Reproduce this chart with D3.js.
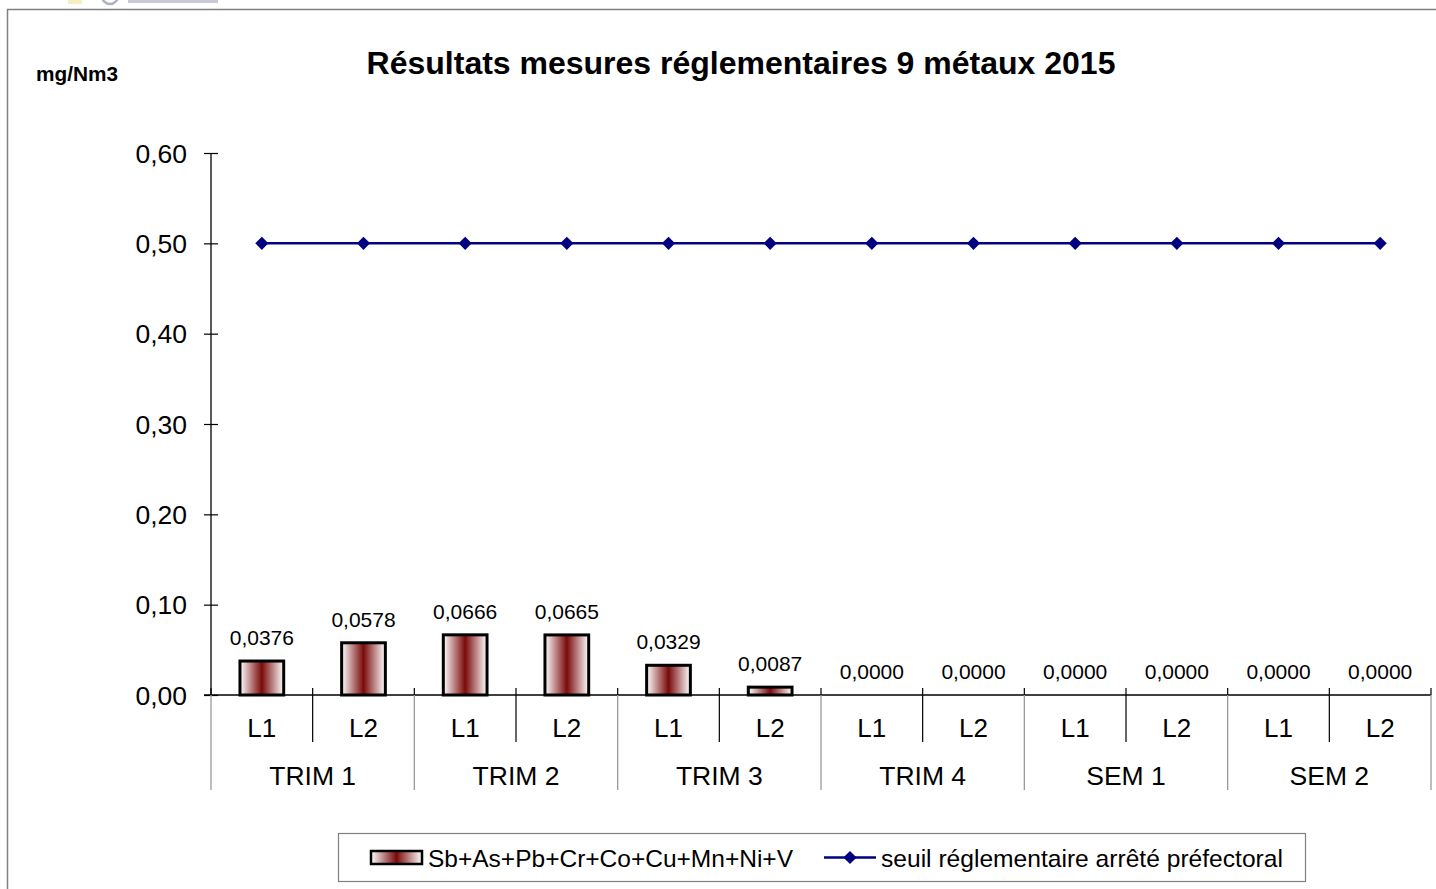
<!DOCTYPE html>
<html>
<head>
<meta charset="utf-8">
<script src="https://cdn.jsdelivr.net/npm/d3@7"></script>
<style>
  html, body { margin: 0; padding: 0; background: #fff; }
  svg { display: block; font-family: "Liberation Sans", Arial, sans-serif; }
</style>
</head>
<body>
<svg id="chart" width="1436" height="889"></svg>
<script>
// Measurement periods and lines
const groups = ["TRIM 1", "TRIM 2", "TRIM 3", "TRIM 4", "SEM 1", "SEM 2"];
const lines = ["L1", "L2"];
// Sum of the 9 metals (mg/Nm3), one value per period/line
const metalValues = [0.0376, 0.0578, 0.0666, 0.0665, 0.0329, 0.0087, 0, 0, 0, 0, 0, 0];
// Regulatory threshold
const thresholdValues = [0.5, 0.5, 0.5, 0.5, 0.5, 0.5, 0.5, 0.5, 0.5, 0.5, 0.5, 0.5];
const yTicks = [0, 0.1, 0.2, 0.3, 0.4, 0.5, 0.6];

const categories = [];
groups.forEach(g => lines.forEach(l => categories.push({ group: g, line: l, key: g + "|" + l })));

const svg = d3.select("#chart");
const fmt = (v, d) => v.toFixed(d).replace(".", ",");

const plot = { left: 211, right: 1431, top: 153, bottom: 695 };

const x = d3.scaleBand().domain(categories.map(c => c.key)).range([plot.left, plot.right]).paddingInner(0).paddingOuter(0);
const y = d3.scaleLinear().domain([0, 0.6]).range([plot.bottom, plot.top]);

// Outer frame
svg.append("path")
  .attr("d", "M7.5,889 L7.5,9.5 L1436,9.5")
  .attr("fill", "none").attr("stroke", "#808080").attr("stroke-width", 1.5);

// Faint logo fragment above the frame
svg.append("circle").attr("cx", 110).attr("cy", -4).attr("r", 8)
  .attr("fill", "none").attr("stroke", "#8890a8").attr("stroke-width", 2.5).attr("opacity", 0.7);
svg.append("rect").attr("x", 128).attr("y", 0).attr("width", 90).attr("height", 3).attr("fill", "#c8cad8");
svg.append("rect").attr("x", 68).attr("y", 0).attr("width", 14).attr("height", 4).attr("fill", "#f6f0c0");

// Title and unit
svg.append("text").attr("x", 741).attr("y", 74).attr("text-anchor", "middle")
  .attr("font-size", 32).attr("font-weight", "bold").attr("fill", "#000")
  .text("Résultats mesures réglementaires 9 métaux 2015");
svg.append("text").attr("x", 36).attr("y", 81)
  .attr("font-size", 20.8).attr("font-weight", "bold").attr("fill", "#000")
  .text("mg/Nm3");

// Bar gradient
const defs = svg.append("defs");
const grad = defs.append("linearGradient").attr("id", "barGrad")
  .attr("x1", "0%").attr("x2", "100%").attr("y1", "0%").attr("y2", "0%");
grad.append("stop").attr("offset", "0%").attr("stop-color", "#ffffff");
grad.append("stop").attr("offset", "50%").attr("stop-color", "#7a0a0a");
grad.append("stop").attr("offset", "100%").attr("stop-color", "#ffffff");

// Y axis
const yAxis = d3.axisLeft(y).tickValues(yTicks).tickSize(7).tickPadding(16).tickFormat(d => fmt(d, 2));
const yg = svg.append("g").attr("transform", `translate(${plot.left},0)`).call(yAxis);
yg.select(".domain").remove();
yg.selectAll(".tick line").attr("x2", 7).attr("x1", -7).attr("stroke", "#000").attr("stroke-width", 1.2);
yg.selectAll(".tick text").attr("font-size", 26.5).attr("fill", "#000").attr("font-family", "Liberation Sans, Arial, sans-serif").attr("dy", "0.35em").attr("x", -24);
svg.append("line").attr("x1", plot.left).attr("x2", plot.left).attr("y1", plot.top).attr("y2", plot.bottom)
  .attr("stroke", "#000").attr("stroke-width", 1.3);

// Bars
svg.append("g").selectAll("rect").data(categories).join("rect")
  .attr("x", d => x(d.key) + x.bandwidth() * 0.285)
  .attr("width", x.bandwidth() * 0.43)
  .attr("y", (d, i) => y(metalValues[i]))
  .attr("height", (d, i) => y(0) - y(metalValues[i]))
  .attr("fill", "url(#barGrad)")
  .attr("stroke", "#000").attr("stroke-width", 3)
  .attr("display", (d, i) => metalValues[i] > 0 ? null : "none");

// Bar value labels
svg.append("g").selectAll("text").data(categories).join("text")
  .attr("x", d => x(d.key) + x.bandwidth() / 2)
  .attr("y", (d, i) => y(metalValues[i]) - 16)
  .attr("text-anchor", "middle").attr("font-size", 21).attr("fill", "#000")
  .text((d, i) => fmt(metalValues[i], 4));

// X axis line
svg.append("line").attr("x1", plot.left - 7).attr("x2", plot.right).attr("y1", plot.bottom).attr("y2", plot.bottom)
  .attr("stroke", "#000").attr("stroke-width", 1.3);

// Separators: within groups (short, black) and between groups (long, grey)
const bounds = d3.range(categories.length + 1).map(i => plot.left + i * x.step());
bounds.forEach((bx, i) => {
  const isGroup = i % 2 === 0;
  svg.append("line").attr("x1", bx).attr("x2", bx)
    .attr("y1", plot.bottom - 7).attr("y2", isGroup ? plot.bottom : 742)
    .attr("stroke", "#000").attr("stroke-width", 1.2);
  if (isGroup) {
    svg.append("line").attr("x1", bx).attr("x2", bx)
      .attr("y1", plot.bottom).attr("y2", 790)
      .attr("stroke", "#9a9a9a").attr("stroke-width", 1.3);
  }
});

// Line labels
svg.append("g").selectAll("text").data(categories).join("text")
  .attr("x", d => x(d.key) + x.bandwidth() / 2).attr("y", 737)
  .attr("text-anchor", "middle").attr("font-size", 26).attr("fill", "#000")
  .text(d => d.line);

// Group labels
svg.append("g").selectAll("text").data(groups).join("text")
  .attr("x", (g, i) => plot.left + (i * 2 + 1) * x.step()).attr("y", 785)
  .attr("text-anchor", "middle").attr("font-size", 26.5).attr("fill", "#000")
  .text(g => g);

// Threshold line
const lineGen = d3.line().x(d => x(d.key) + x.bandwidth() / 2).y((d, i) => y(thresholdValues[i]));
svg.append("path").datum(categories).attr("d", lineGen)
  .attr("fill", "none").attr("stroke", "#000080").attr("stroke-width", 2.5);
const diamond = d3.symbol().type(d3.symbolDiamond2).size(110);
svg.append("g").selectAll("path").data(categories).join("path")
  .attr("transform", (d, i) => `translate(${x(d.key) + x.bandwidth() / 2},${y(thresholdValues[i])})`)
  .attr("d", diamond).attr("fill", "#000080");

// Legend
const lg = svg.append("g");
lg.append("rect").attr("x", 338.5).attr("y", 833.5).attr("width", 967).attr("height", 48)
  .attr("fill", "#fff").attr("stroke", "#808080").attr("stroke-width", 1.2);
lg.append("rect").attr("x", 371).attr("y", 851).attr("width", 51).attr("height", 13)
  .attr("fill", "url(#barGrad)").attr("stroke", "#000").attr("stroke-width", 2.5);
lg.append("text").attr("x", 428).attr("y", 866.5).attr("font-size", 24.5).attr("fill", "#000")
  .text("Sb+As+Pb+Cr+Co+Cu+Mn+Ni+V");
lg.append("line").attr("x1", 824).attr("x2", 876).attr("y1", 857.5).attr("y2", 857.5)
  .attr("stroke", "#000080").attr("stroke-width", 2.5);
lg.append("path").attr("transform", "translate(850,857.5)").attr("d", diamond).attr("fill", "#000080");
lg.append("text").attr("x", 881).attr("y", 866.5).attr("font-size", 24.6).attr("fill", "#000")
  .text("seuil réglementaire arrêté préfectoral");
</script>
</body>
</html>
